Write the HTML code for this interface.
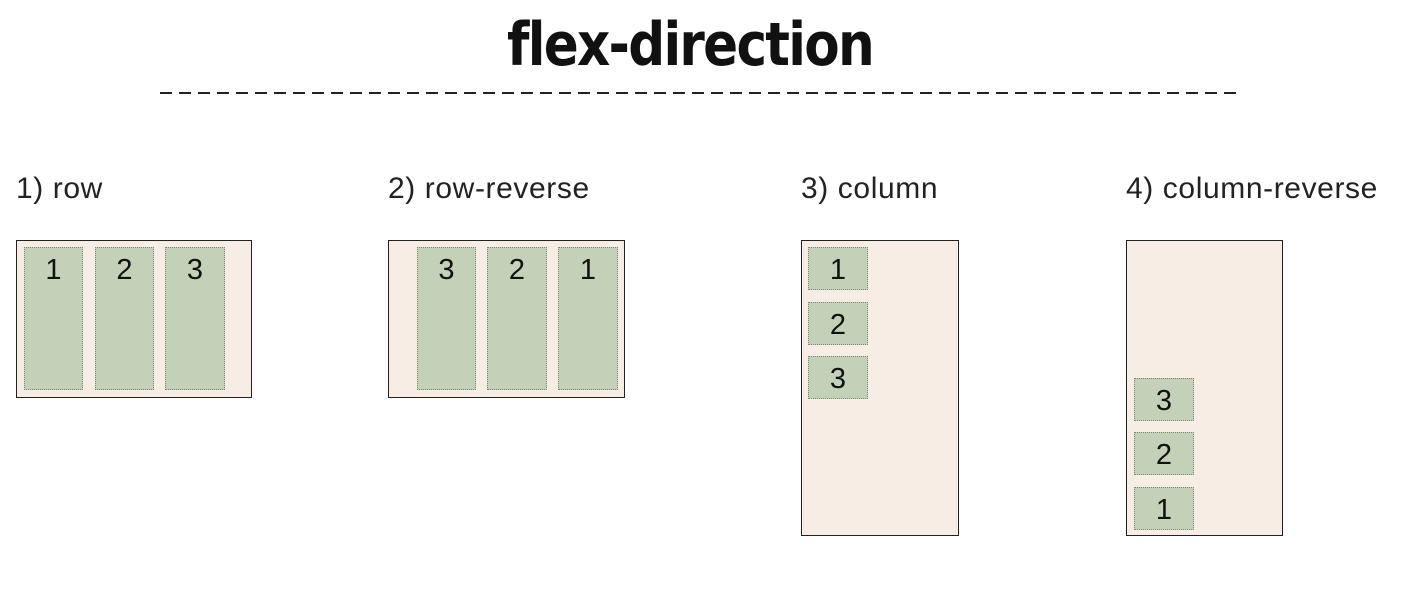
<!DOCTYPE html>
<html><head><meta charset="utf-8"><style>
body{margin:0;width:1404px;height:589px;background:#fff;position:relative;overflow:hidden;font-family:"Liberation Sans","DejaVu Sans",sans-serif;color:#111}
.a{position:absolute}
.box{position:absolute;background:#f7ede5;border:1.5px solid #222;box-sizing:border-box}
.it{position:absolute;background:#c2d1b8;border:1px dotted #7d8a75;box-sizing:border-box;text-align:center;font-size:29px;line-height:44px;color:#111}
.lbl{position:absolute;font-size:30px;top:172px;color:#222;letter-spacing:0.6px}
</style></head><body>
<div class="a" style="left:0;width:1380px;top:10px;text-align:center;font-size:60px;font-weight:bold;font-family:'DejaVu Sans',sans-serif;letter-spacing:-2px;transform:scaleX(0.86);transform-origin:690px 0">flex-direction</div>
<svg class="a" style="left:0;top:0" width="1404" height="100"><line x1="160" y1="93" x2="1240" y2="93" stroke="#222" stroke-width="2" stroke-dasharray="12,7"/></svg>

<div class="lbl" style="left:16px">1) row</div>
<div class="box" style="left:16px;top:240px;width:236px;height:158px">
<div class="it" style="left:7px;top:6px;width:59px;height:143px">1</div>
<div class="it" style="left:78px;top:6px;width:59px;height:143px">2</div>
<div class="it" style="left:148px;top:6px;width:60px;height:143px">3</div>
</div>

<div class="lbl" style="left:388px">2) row-reverse</div>
<div class="box" style="left:388px;top:240px;width:237px;height:158px">
<div class="it" style="left:28px;top:6px;width:59px;height:143px">3</div>
<div class="it" style="left:98px;top:6px;width:60px;height:143px">2</div>
<div class="it" style="left:169px;top:6px;width:60px;height:143px">1</div>
</div>

<div class="lbl" style="left:801px">3) column</div>
<div class="box" style="left:801px;top:240px;width:158px;height:296px">
<div class="it" style="left:6px;top:6px;width:60px;height:43px">1</div>
<div class="it" style="left:6px;top:61px;width:60px;height:43px">2</div>
<div class="it" style="left:6px;top:115px;width:60px;height:43px">3</div>
</div>

<div class="lbl" style="left:1126px">4) column-reverse</div>
<div class="box" style="left:1126px;top:240px;width:157px;height:296px">
<div class="it" style="left:7px;top:137px;width:60px;height:43px">3</div>
<div class="it" style="left:7px;top:191px;width:60px;height:43px">2</div>
<div class="it" style="left:7px;top:246px;width:60px;height:43px">1</div>
</div>
</body></html>
